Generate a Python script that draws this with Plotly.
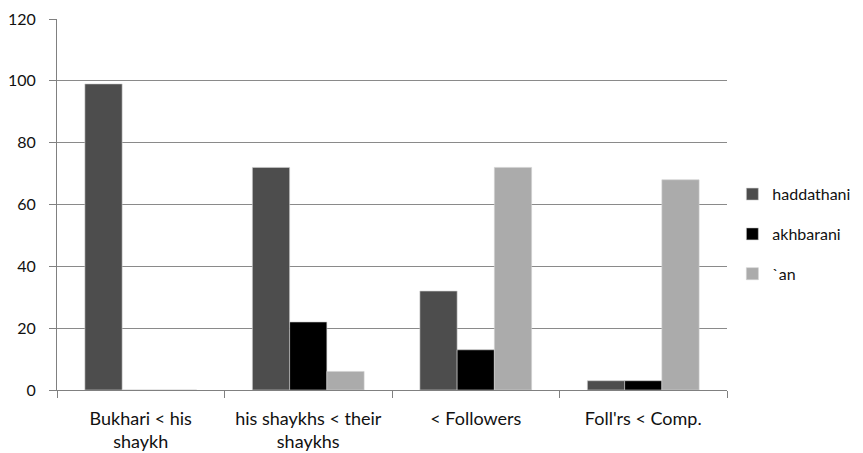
import plotly.graph_objects as go

categories = ["Bukhari < his<br>shaykh", "his shaykhs < their<br>shaykhs", "< Followers", "Foll'rs < Comp."]
series_names = ["haddathani", "akhbarani", "`an"]
haddathani = [99, 72, 32, 3]
akhbarani = [0, 22, 13, 3]
an_vals = [0, 6, 72, 68]
colors = ["#4d4d4d", "#000000", "#ababab"]
y_ticks = [0, 20, 40, 60, 80, 100, 120]

fig = go.Figure()
for name, vals, col in zip(series_names, [haddathani, akhbarani, an_vals], colors):
    fig.add_trace(go.Bar(
        x=categories, y=vals, name=name, legendgroup=name,
        marker=dict(color=col, line=dict(color="#d0d0d0", width=0.6)),
    ))

# page has an 8px body margin, so the figure is 855x445 offset by 8px
font_family = "Lato, 'Open Sans', sans-serif"
fig.update_layout(
    width=855, height=445,
    margin=dict(l=49, r=136, t=11, b=63, autoexpand=False),
    paper_bgcolor="white", plot_bgcolor="white",
    barmode="group", bargap=0.333, bargroupgap=0,
    font=dict(family=font_family, color="#111111"),
    legend=dict(
        x=1.008, y=0.42, xanchor="left", yanchor="middle",
        font=dict(size=16, family=font_family, color="#111111"),
        tracegroupgap=16, itemwidth=30,
    ),
    showlegend=True,
)
fig.update_xaxes(
    showline=True, linecolor="#808080", linewidth=1,
    ticks="outside", tickson="boundaries", ticklen=7, tickcolor="#808080",
    tickfont=dict(size=18, family=font_family, color="#111111"),
    ticklabelstandoff=12,
    showgrid=False,
)
fig.update_yaxes(
    range=[0, 120], tickvals=y_ticks,
    showline=True, linecolor="#808080", linewidth=1,
    ticks="outside", ticklen=7, tickcolor="#808080",
    showgrid=True, gridcolor="#8a8a8a", gridwidth=1,
    tickfont=dict(size=16, family=font_family, color="#111111"),
    ticklabelstandoff=10, ticklabeloverflow="allow",
    zeroline=False,
)
fig.write_html("out.html")
